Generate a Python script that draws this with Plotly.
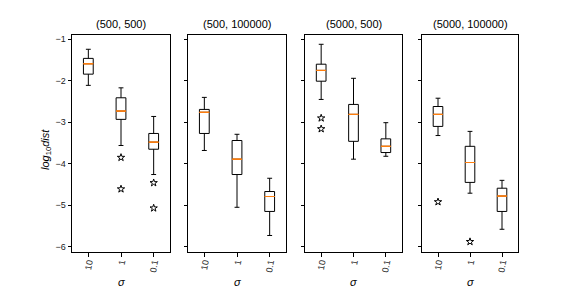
import plotly.graph_objects as go

titles = ["(500, 500)", "(500, 100000)", "(5000, 500)", "(5000, 100000)"]
sigma_labels = ["10", "1", "0.1"]
positions = [1, 2, 3]

upper = [[-1.24, -2.17, -2.86], [-2.40, -3.29, -4.35], [-1.12, -1.94, -3.01], [-2.42, -3.22, -4.40]]
q3 = [[-1.46, -2.41, -3.27], [-2.69, -3.44, -4.67], [-1.60, -2.57, -3.40], [-2.62, -3.58, -4.59]]
median = [[-1.59, -2.73, -3.48], [-2.76, -3.89, -4.79], [-1.75, -2.81, -3.58], [-2.81, -3.97, -4.78]]
q1 = [[-1.84, -2.93, -3.65], [-3.27, -4.26, -5.15], [-2.01, -3.46, -3.73], [-3.10, -4.45, -5.15]]
lower = [[-2.11, -3.56, -4.26], [-3.68, -5.05, -5.73], [-2.45, -3.89, -3.82], [-3.32, -4.71, -5.58]]
# outliers per panel: category position and value
outlier_x = [[2, 2, 3, 3], [], [1, 1], [1, 2]]
outlier_y = [[-3.85, -4.61, -4.46, -5.07], [], [-2.90, -3.16], [-4.92, -5.88]]

W, H = 576, 288
xdom_px = [(72, 170), (188, 286), (305, 402), (422, 518)]
ydom = [36 / H, 253 / H]

fig = go.Figure()
font = "Liberation Sans, Arial, sans-serif"
for i in range(4):
    xa = "x" if i == 0 else f"x{i+1}"
    ya = "y" if i == 0 else f"y{i+1}"
    fig.add_trace(go.Box(
        x=positions, q1=q1[i], median=median[i], q3=q3[i],
        lowerfence=lower[i], upperfence=upper[i],
        width=0.3, whiskerwidth=0.5, boxpoints=False,
        line=dict(color="black", width=1), fillcolor="rgba(0,0,0,0)",
        xaxis=xa, yaxis=ya, showlegend=False, hoverinfo="skip"))
    fig.add_trace(go.Box(
        x=positions, q1=median[i], median=median[i], q3=median[i],
        lowerfence=median[i], upperfence=median[i],
        width=0.3, whiskerwidth=0, boxpoints=False,
        line=dict(color="#ff7f0e", width=1), fillcolor="rgba(0,0,0,0)",
        xaxis=xa, yaxis=ya, showlegend=False, hoverinfo="skip"))
    if outlier_x[i]:
        fig.add_trace(go.Scatter(
            x=outlier_x[i], y=outlier_y[i], mode="markers",
            marker=dict(symbol="star-open", size=5.5, color="black", line=dict(width=1, color="black")),
            xaxis=xa, yaxis=ya, showlegend=False, hoverinfo="skip"))

    x0, x1 = xdom_px[i]
    axis_common = dict(showline=True, mirror=True, linecolor="black", linewidth=1,
                       ticks="outside", ticklen=3.5, tickcolor="black", tickwidth=1,
                       showgrid=False, zeroline=False)
    fig.layout[("xaxis" if i == 0 else f"xaxis{i+1}")] = dict(
        domain=[x0 / W, x1 / W], anchor=ya, range=[0.5, 3.5],
        tickmode="array", tickvals=positions, ticktext=sigma_labels, tickangle=-80,
        ticklabelstandoff=-3,
        tickfont=dict(size=9, color="#222", family=font), **axis_common)
    fig.layout[("yaxis" if i == 0 else f"yaxis{i+1}")] = dict(
        domain=ydom, anchor=xa, range=[-6.128, -0.896],
        tickmode="array", tickvals=[-1, -2, -3, -4, -5, -6],
        showticklabels=(i == 0),
        tickfont=dict(size=9, color="#222", family=font), **axis_common)
    fig.add_annotation(x=(x0 + x1) / 2 / W, y=ydom[1], xref="paper", yref="paper",
                       text=titles[i], showarrow=False, xanchor="center", yanchor="bottom", yshift=3,
                       font=dict(size=11, color="black", family=font))
    fig.add_annotation(x=(x0 + x1) / 2 / W, y=1 - 282 / H, xref="paper", yref="paper",
                       text="<i>σ</i>", showarrow=False, xanchor="center", yanchor="middle",
                       font=dict(size=11, color="black", family=font))

fig.add_annotation(x=46 / W, y=1 - 150 / H, xref="paper", yref="paper",
                   text="<i>log</i><sub>10</sub><i>dist</i>", showarrow=False, textangle=-90,
                   xanchor="center", yanchor="middle",
                   font=dict(size=11, color="black", family=font))

fig.update_layout(width=W, height=H, margin=dict(l=0, r=0, t=0, b=0),
                  plot_bgcolor="white", paper_bgcolor="white",
                  boxmode="overlay", font=dict(family=font))
fig.write_html("out.html", config={"displayModeBar": False},
               post_script="document.body.style.margin='0';document.body.style.overflow='hidden';")
